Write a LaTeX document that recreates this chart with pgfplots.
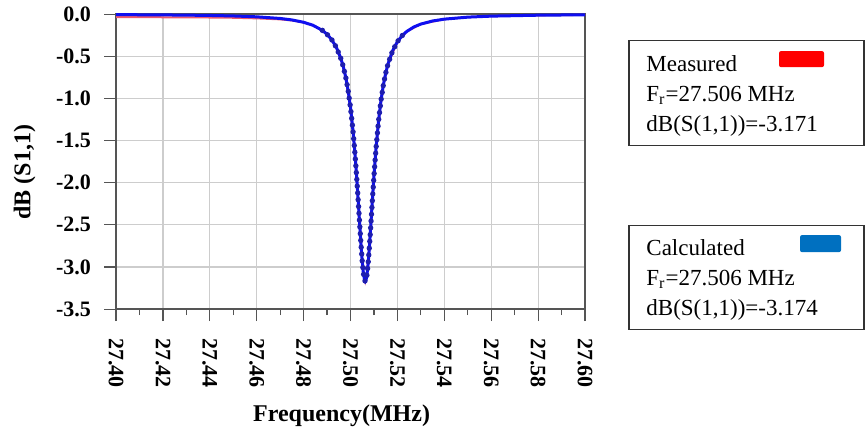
\documentclass[border=0pt]{standalone}
\usepackage{fontspec}
\setmainfont{Liberation Serif}
\usepackage{pgfplots}
\pgfplotsset{compat=1.18}
\definecolor{gridgray}{RGB}{205,205,205}
\definecolor{axgray}{RGB}{85,85,85}
\definecolor{calcblue}{RGB}{15,15,240}
\definecolor{dotblue}{RGB}{30,30,175}
\definecolor{measred}{RGB}{235,90,110}
\definecolor{swred}{RGB}{255,0,0}
\definecolor{swblue}{RGB}{0,112,192}

\pgfplotstableread{
f dB
27.4000 -0.0061
27.4100 -0.0074
27.4200 -0.0092
27.4300 -0.0118
27.4400 -0.0156
27.4500 -0.0215
27.4600 -0.0318
27.4700 -0.0513
27.4750 -0.0686
27.4800 -0.0963
27.4840 -0.1323
27.4880 -0.1925
27.4900 -0.2386
27.4920 -0.3030
27.4940 -0.3957
27.4960 -0.535
27.4970 -0.631
27.4980 -0.753
27.4990 -0.909
27.5000 -1.109
27.5010 -1.367
27.5015 -1.521
27.5020 -1.693
27.5025 -1.883
27.5030 -2.090
27.5035 -2.309
27.5040 -2.531
27.5045 -2.744
27.5050 -2.932
27.5055 -3.075
27.5060 -3.156
27.5063 -3.170
27.5066 -3.156
27.5070 -3.097
27.5075 -2.965
27.5080 -2.784
27.5085 -2.574
27.5090 -2.354
27.5095 -2.133
27.5100 -1.923
27.5105 -1.730
27.5110 -1.554
27.5120 -1.256
27.5130 -1.023
27.5140 -0.842
27.5150 -0.701
27.5160 -0.590
27.5180 -0.432
27.5200 -0.327
27.5220 -0.256
27.5240 -0.205
27.5270 -0.1525
27.5300 -0.1177
27.5350 -0.0813
27.5400 -0.0594
27.5500 -0.0356
27.5600 -0.0237
27.5800 -0.0126
27.6000 -0.0078
}\calctable

\pgfplotstableread{
f dB
27.4880 -0.1925
27.4900 -0.2386
27.4920 -0.3030
27.4940 -0.3957
27.4960 -0.535
27.4970 -0.631
27.4980 -0.753
27.4990 -0.909
27.5000 -1.109
27.5010 -1.367
27.5015 -1.521
27.5020 -1.693
27.5025 -1.883
27.5030 -2.090
27.5035 -2.309
27.5040 -2.531
27.5045 -2.744
27.5050 -2.932
27.5055 -3.075
27.5060 -3.156
27.5063 -3.170
27.5066 -3.156
27.5070 -3.097
27.5075 -2.965
27.5080 -2.784
27.5085 -2.574
27.5090 -2.354
27.5095 -2.133
27.5100 -1.923
27.5105 -1.730
27.5110 -1.554
27.5120 -1.256
27.5130 -1.023
27.5140 -0.842
27.5150 -0.701
27.5160 -0.590
27.5180 -0.432
27.5200 -0.327
27.5220 -0.256
27.5240 -0.205
}\diptable

\pgfplotstableread{
f dB
27.4000 -0.036
27.4100 -0.036
27.4200 -0.037
27.4300 -0.038
27.4400 -0.040
27.4500 -0.043
27.4600 -0.050
27.4700 -0.062
27.4750 -0.075
27.4800 -0.098
27.4840 -0.133
27.4880 -0.193
27.4900 -0.239
27.4920 -0.303
27.4940 -0.396
27.4960 -0.535
27.4980 -0.753
27.5000 -1.109
27.5020 -1.693
27.5040 -2.531
27.5055 -3.075
27.5063 -3.171
27.5070 -3.097
27.5085 -2.574
27.5100 -1.923
27.5120 -1.256
27.5140 -0.842
27.5160 -0.590
27.5200 -0.327
27.5240 -0.205
27.5300 -0.118
27.5400 -0.060
27.5500 -0.036
27.5600 -0.024
27.5800 -0.014
27.6000 -0.009
}\meastable

\begin{document}
\begin{tikzpicture}
\path (0,0) rectangle (432.5pt,217.5pt);
\begin{axis}[
  at={(58pt,64pt)}, anchor=south west,
  scale only axis, width=234.5pt, height=147.5pt,
  xmin=27.40, xmax=27.60, ymin=-3.5, ymax=0,
  xtick={27.40,27.42,27.44,27.46,27.48,27.50,27.52,27.54,27.56,27.58,27.60},
  xticklabels={27.40,27.42,27.44,27.46,27.48,27.50,27.52,27.54,27.56,27.58,27.60},
  minor x tick num=1,
  ytick={-3.5,-3.0,-2.5,-2.0,-1.5,-1.0,-0.5,0},
  yticklabels={-3.5,-3.0,-2.5,-2.0,-1.5,-1.0,-0.5,0.0},
  xtick pos=left, ytick pos=left,
  grid=major, major grid style={gridgray, line width=0.6pt},
  axis line style={axgray, line width=0.7pt},
  tick style={axgray, line width=0.6pt},
  tick align=outside, major tick length=6pt, minor tick length=3pt,
  xticklabel style={rotate=-90, anchor=west, font=\fontsize{11}{13}\selectfont\bfseries},
  xticklabel shift=5pt,
  yticklabel style={font=\fontsize{11}{13}\selectfont\bfseries},
  yticklabel shift=3pt,
  xlabel={Frequency(MHz)},
  xlabel style={font=\fontsize{12}{14}\selectfont\bfseries, at={(axis description cs:0.481,-0.363)}, anchor=center},
  ylabel={dB (S1,1)},
  ylabel style={font=\fontsize{12}{14}\selectfont\bfseries, at={(axis description cs:-0.195,0.464)}, anchor=center},
  clip=false,
]
\addplot[measred, line width=1.0pt] table[x=f, y=dB] {\meastable};
\addplot[calcblue, line width=1.5pt] table[x=f, y=dB] {\calctable};
\addplot[dotblue, line width=2.7pt, line cap=round, dash pattern=on 0pt off 3.4pt] table[x=f, y=dB] {\diptable};
\end{axis}
% legend boxes
\draw[black!80, line width=0.6pt] (314.5pt,146pt) rectangle (432pt,198.5pt);
\fill[swred, rounded corners=1pt] (389.5pt,185pt) rectangle (412pt,193pt);
\node[anchor=base west, inner sep=0pt, font=\fontsize{11.5}{14}\selectfont] at (323pt,183pt) {Measured};
\node[anchor=base west, inner sep=0pt, font=\fontsize{11.5}{14}\selectfont] at (323pt,168pt) {F\textsubscript{r}=27.506 MHz};
\node[anchor=base west, inner sep=0pt, font=\fontsize{11.5}{14}\selectfont] at (323pt,153pt) {dB(S(1,1))=-3.171};
\draw[black!80, line width=0.6pt] (314.5pt,54pt) rectangle (432pt,106pt);
\fill[swblue, rounded corners=1pt] (400pt,92.5pt) rectangle (420.5pt,101pt);
\node[anchor=base west, inner sep=0pt, font=\fontsize{11.5}{14}\selectfont] at (323pt,91pt) {Calculated};
\node[anchor=base west, inner sep=0pt, font=\fontsize{11.5}{14}\selectfont] at (323pt,76pt) {F\textsubscript{r}=27.506 MHz};
\node[anchor=base west, inner sep=0pt, font=\fontsize{11.5}{14}\selectfont] at (323pt,61pt) {dB(S(1,1))=-3.174};
\end{tikzpicture}
\end{document}
